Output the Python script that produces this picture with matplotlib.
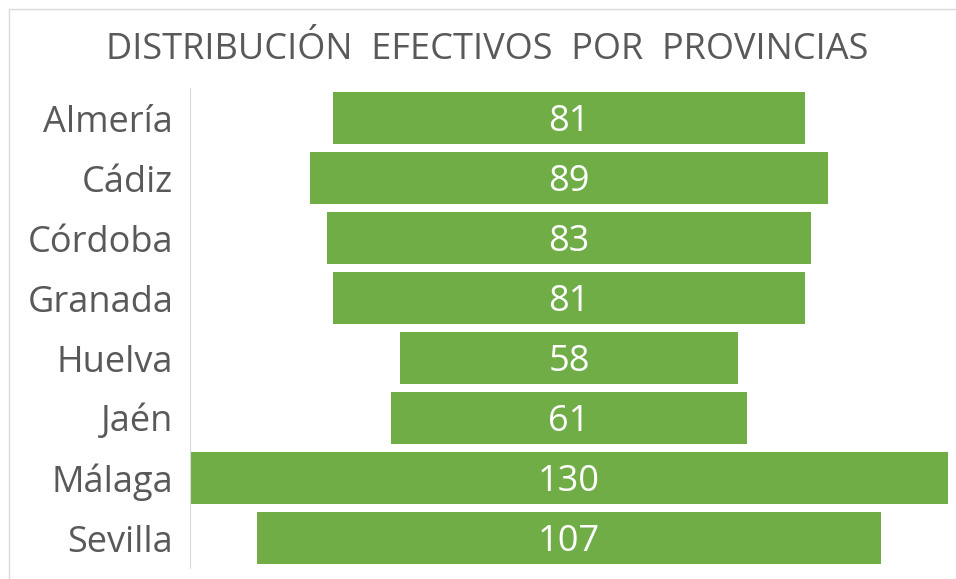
import matplotlib
matplotlib.use("Agg")
from matplotlib import pyplot as plt
from matplotlib.patches import Rectangle

provincias = ["Almería", "Cádiz", "Córdoba", "Granada", "Huelva", "Jaén", "Málaga", "Sevilla"]
efectivos = [81, 89, 83, 81, 58, 61, 130, 107]
titulo = "DISTRIBUCIÓN  EFECTIVOS  POR  PROVINCIAS"

plt.rcParams['font.family'] = ['Open Sans', 'DejaVu Sans']

fig = plt.figure(figsize=(9.56, 5.79), dpi=100)
fig.patches.append(Rectangle((9/956, -0.1), 1.2, 1 - 9/579 + 0.1, transform=fig.transFigure,
                             fill=False, edgecolor="#d9d9d9", linewidth=1))

ax = fig.add_axes([190/956, 1 - 568/579, 758/956, 480/579])

pos = list(range(len(provincias)))
lefts = [-v / 2 for v in efectivos]
ax.barh(pos, efectivos, left=lefts, height=0.87, color="#70ad47")

for p, v in zip(pos, efectivos):
    ax.text(0, p + 0.07, str(v), ha="center", va="center", color="white", fontsize=26)

ax.set_xlim(-65, 65)
ax.set_ylim(len(provincias) - 0.5, -0.5)
ax.set_yticks(pos)
ax.set_yticklabels(provincias, fontsize=26, color="#595959")
ax.tick_params(axis="y", length=0, pad=12)
ax.set_xticks([])
for s in ["top", "right", "bottom"]:
    ax.spines[s].set_visible(False)
ax.spines["left"].set_color("#d9d9d9")

fig.text(487/956, 1 - 50/579, titulo, ha="center", va="center", fontsize=26, color="#595959")

fig.savefig("out.png", dpi=100)
